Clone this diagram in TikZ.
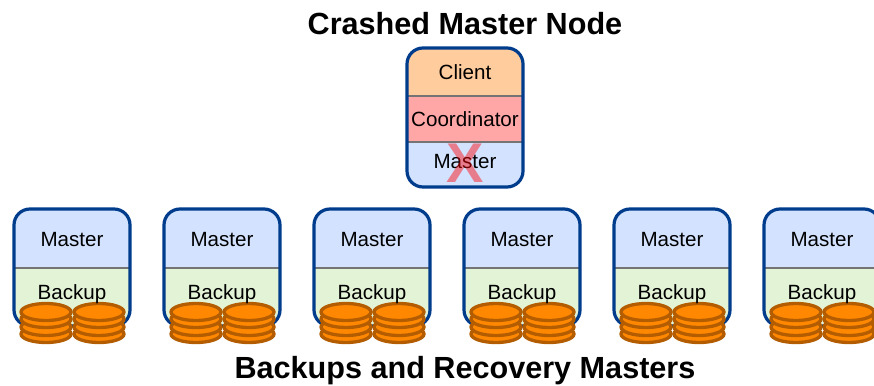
\documentclass[tikz,border=0pt]{standalone}
\usepackage{fontspec}
\setmainfont{Liberation Sans}
\usetikzlibrary{calc}
\usetikzlibrary{shapes.geometric}
\definecolor{boxline}{HTML}{003C8C}
\definecolor{midline}{HTML}{747474}
\definecolor{clientfill}{HTML}{FFCC9E}
\definecolor{coordfill}{HTML}{FFA6A6}
\definecolor{masterfill}{HTML}{D3E3FF}
\definecolor{backupfill}{HTML}{E3F3D6}
\definecolor{diskfill}{HTML}{FF8800}
\definecolor{diskline}{HTML}{B35C00}
\tikzset{
  label20/.style={inner sep=0pt,font=\fontsize{20.6}{24}\selectfont},
  title/.style={inner sep=0pt,font=\fontsize{30.6}{34}\selectfont\bfseries},
  boxedge/.style={draw=boxline,line width=3.2pt,rounded corners=16pt},
  divider/.style={draw=midline,line width=2.6pt},
  disk/.style={ellipse,draw=diskline,fill=diskfill,line width=3.3pt,minimum width=50pt,minimum height=17pt,inner sep=0pt},
}
\begin{document}
\begin{tikzpicture}[x=1pt,y=-1pt]
    \useasboundingbox (0,0) rectangle (874,385);
    \clip (0,0) rectangle (874,385);
    % titel
    \node [title] (top) at (465,24) {Crashed Master Node};
    \node [title] (bottom) at (465,371) {Backups and Recovery Masters};
    % bovenste server
    \begin{scope}
        \clip [rounded corners=16pt] (407,48) rectangle (523,187);
        \fill [clientfill] (407,48) rectangle (523,96);
        \fill [coordfill] (407,96) rectangle (523,142);
        \fill [masterfill] (407,142) rectangle (523,187);
    \end{scope}
    \draw [divider] (407,96) -- (523,96);
    \draw [divider] (407,142) -- (523,142);
    \draw [boxedge] (407,48) rectangle (523,187);
    \node [label20] (client) at (465,72) {Client};
    \node [label20] (coord) at (465,119) {Coordinator};
    \node [label20] (crashed) at (465,162) {Master};
    \node [inner sep=0pt,text=red,opacity=.45,font=\fontsize{56}{60}\selectfont\bfseries] (cross) at (465,163) {X};
    % onderste rij
    \foreach \i in {0,...,5} {
        \begin{scope}[xshift=150*\i]
            \begin{scope}
                \clip [rounded corners=16pt] (14,209) rectangle (130,326);
                \fill [masterfill] (14,209) rectangle (130,268);
                \fill [backupfill] (14,268) rectangle (130,326);
            \end{scope}
            \draw [divider] (14,268) -- (130,268);
            \draw [boxedge] (14,209) rectangle (130,326);
            \node [label20] (master\i) at (72,240) {Master};
            % schijven
            \foreach \y in {334,327,319,312} {
                \node [disk] (left\i-\y) at (46,\y) {};
                \node [disk] (right\i-\y) at (99,\y) {};
            }
            \node [label20] (backup\i) at (72,294) {Backup};
        \end{scope}
    }
\end{tikzpicture}
\end{document}
